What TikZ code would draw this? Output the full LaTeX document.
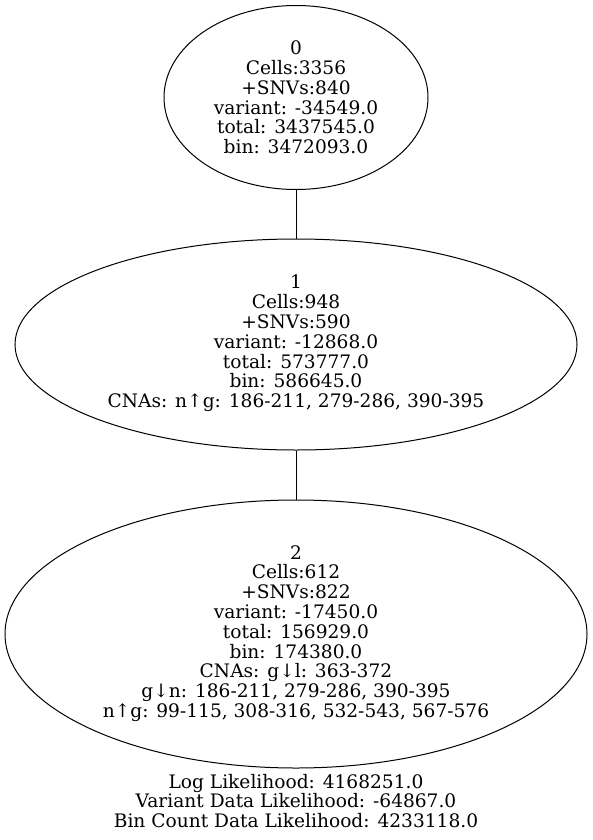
\documentclass[tikz,border=0pt]{standalone}
\usepackage{fontspec}
\setmainfont{DejaVu Serif}
\usepackage{tikz}
\usetikzlibrary{shapes,positioning}

\begin{document}
\begin{tikzpicture}[x=1pt,y=1pt]
			\tikzstyle{every node}+=[inner sep=0pt]
			\tikzstyle{clone}=[draw=black,line width=1pt,ellipse]
			\tikzstyle{info}=[align=center,font=\fontsize{18.6}{19.8}\selectfont]
			\useasboundingbox (0,0) rectangle (592,-840);
			\node [clone,minimum width=264,minimum height=184] (n0) at (296,-97.5) {};
			\node [info] (t0) at (n0.center) {0\\Cells:3356\\+SNVs:840\\variant: -34549.0\\total: 3437545.0\\bin: 3472093.0};
			\node [clone,minimum width=562,minimum height=211] (n1) at (296,-344.5) {};
			\node [info] (t1) at (296,-343.5) {1\\Cells:948\\+SNVs:590\\variant: -12868.0\\total: 573777.0\\bin: 586645.0\\CNAs: n↑g: 186-211, 279-286, 390-395};
			\node [clone,minimum width=582,minimum height=268] (n2) at (296,-634) {};
			\node [info] (t2) at (296,-633.5) {2\\Cells:612\\+SNVs:822\\variant: -17450.0\\total: 156929.0\\bin: 174380.0\\CNAs: g↓l: 363-372\\g↓n: 186-211, 279-286, 390-395\\n↑g: 99-115, 308-316, 532-543, 567-576};
			\draw [black,line width=1pt] (n0) -- (n1);
			\draw [black,line width=1pt] (n1) -- (n2);
			\node [info] (lik) at (296,-801) {Log Likelihood: 4168251.0\\Variant Data Likelihood: -64867.0\\Bin Count Data Likelihood: 4233118.0};
		\end{tikzpicture}
\end{document}
